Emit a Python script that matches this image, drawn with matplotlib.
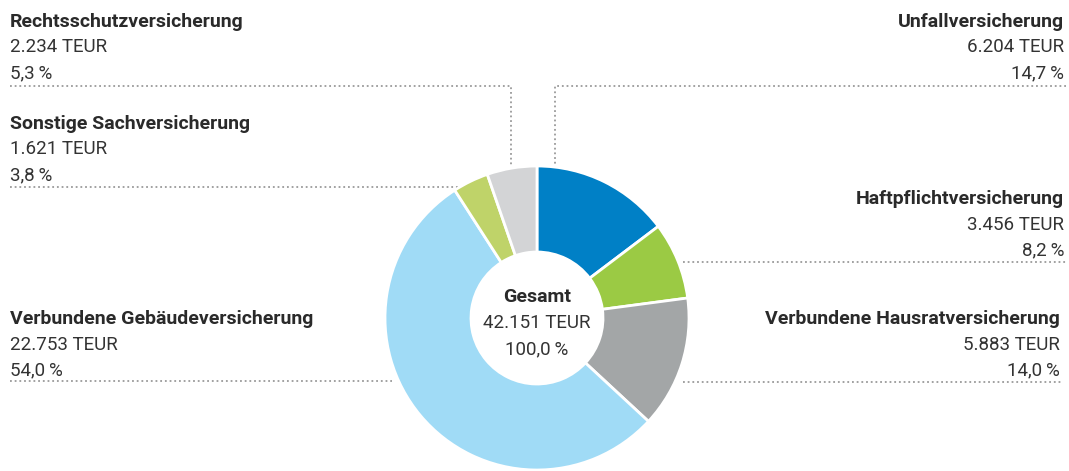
import matplotlib
matplotlib.use("Agg")
import matplotlib.pyplot as plt
from matplotlib import font_manager

# Versicherungszweige, im Uhrzeigersinn ab 12 Uhr
names = ["Unfallversicherung", "Haftpflichtversicherung", "Verbundene Hausratversicherung",
         "Verbundene Gebäudeversicherung", "Sonstige Sachversicherung", "Rechtsschutzversicherung"]
teur = ["6.204", "3.456", "5.883", "22.753", "1.621", "2.234"]
shares = [14.7, 8.2, 14.0, 54.0, 3.8, 5.3]
colors = ["#0080c6", "#9bca44", "#a3a6a7", "#a0dbf6", "#bfd369", "#d3d4d6"]
total_label = "42.151 TEUR"
total_pct = "100,0\u2009%"

avail = {f.name for f in font_manager.fontManager.ttflist}
fam = "Liberation Sans Narrow" if "Liberation Sans Narrow" in avail else "Roboto"
plt.rcParams["font.family"] = [fam, "DejaVu Sans"]

W, H = 1069, 471
fig = plt.figure(figsize=(W / 100, H / 100), dpi=100)
ax = fig.add_axes([0, 0, 1, 1])
ax.set_xlim(0, W)
ax.set_ylim(0, H)
ax.set_aspect("equal")
ax.axis("off")

def Y(py):
    return H - py

cx, cy, r_out, r_in = 537, Y(318), 152, 66
ax.pie(shares, colors=colors, startangle=90, counterclock=False, center=(cx, cy),
       radius=r_out, wedgeprops=dict(width=r_out - r_in, edgecolor="white", linewidth=2))
ax.set_xlim(0, W)
ax.set_ylim(0, H)

dot = dict(color="#9a9a9a", linestyle=(0, (1, 1.6)), linewidth=1.3, zorder=0)
txt_dark = "#2a2a2a"
fs_b = 14
fs_r = 13.5

# label layout: (x, top y in px, alignment)
layout = {
    0: (1064, 22, "right"),
    1: (1064, 199, "right"),
    2: (1060, 319, "right"),
    3: (10, 319, "left"),
    4: (10, 124, "left"),
    5: (10, 22, "left"),
}
for i, (x, ty, ha) in layout.items():
    ax.text(x, Y(ty), names[i], ha=ha, va="center", fontsize=fs_b, fontweight="bold", color=txt_dark)
    ax.text(x, Y(ty + 25.5), teur[i] + " TEUR", ha=ha, va="center", fontsize=fs_r, color="#333333")
    ax.text(x, Y(ty + 51), f"{shares[i]:.1f}".replace(".", ",") + "\u2009%", ha=ha, va="center",
            fontsize=fs_r, color="#333333")

# leader lines
ax.plot([10, 511, 511], [Y(86), Y(86), Y(167)], **dot)
ax.plot([1066, 555, 555], [Y(86), Y(86), Y(167)], **dot)
ax.plot([10, 460], [Y(187), Y(187)], **dot)
ax.plot([683, 1066], [Y(262), Y(262)], **dot)
ax.plot([683, 1062], [Y(382), Y(382)], **dot)
ax.plot([10, 392], [Y(381), Y(381)], **dot)

# Mitte
ax.text(cx, Y(297), "Gesamt", ha="center", va="center", fontsize=fs_b, fontweight="bold", color=txt_dark)
ax.text(cx, Y(323), total_label, ha="center", va="center", fontsize=fs_r, color="#333333")
ax.text(cx, Y(349), total_pct, ha="center", va="center", fontsize=fs_r, color="#333333")

fig.savefig("out.png", dpi=100)
